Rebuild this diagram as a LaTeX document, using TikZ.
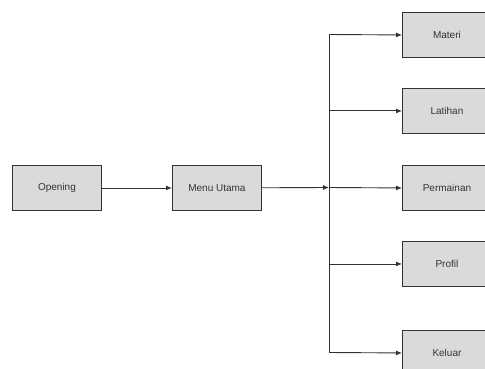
\documentclass[tikz,border=0pt]{standalone}
\usepackage{fontspec}
\setmainfont{Liberation Sans}
\usetikzlibrary{arrows.meta}
\definecolor{boxfill}{HTML}{DADADA}
\definecolor{linec}{HTML}{333333}
\begin{document}
\begin{tikzpicture}[x=1pt,y=-1pt,
  box/.style={draw=linec,fill=boxfill,line width=0.9pt,minimum width=89pt,minimum height=45pt,inner sep=0pt,font=\fontsize{10}{12}\selectfont,text=black!80,anchor=north west},
  conn/.style={draw=linec,line width=0.9pt},
  arr/.style={conn,-{Latex[length=6pt,width=5pt]}}]
\useasboundingbox (0,0) rectangle (485,369);
\clip (0,0) rectangle (485,369);
\fill[white] (0,0) rectangle (485,369);
\node[box] (opening) at (12,165) {Opening};
\node[box] (menu) at (172,165) {Menu Utama};
\node[box] (materi) at (402,12) {Materi};
\node[box] (latihan) at (402,88) {Latihan};
\node[box] (permainan) at (402,165) {Permainan};
\node[box] (profil) at (402,241) {Profil};
\node[box] (keluar) at (402,330) {Keluar};
\coordinate (t) at (329,187.5);
\coordinate (ttop) at (329,34.5);
\coordinate (tbot) at (329,352.5);
\draw[arr] (opening) -- (menu);
\draw[arr] (menu) -- (t);
\draw[conn] (ttop) -- (tbot);
\draw[arr] (ttop) -- (materi.west);
\draw[arr] (t |- latihan.west) -- (latihan.west);
\draw[arr] (t) -- (permainan.west);
\draw[arr] (t |- profil.west) -- (profil.west);
\draw[arr] (tbot) -- (keluar.west);
\end{tikzpicture}
\end{document}
